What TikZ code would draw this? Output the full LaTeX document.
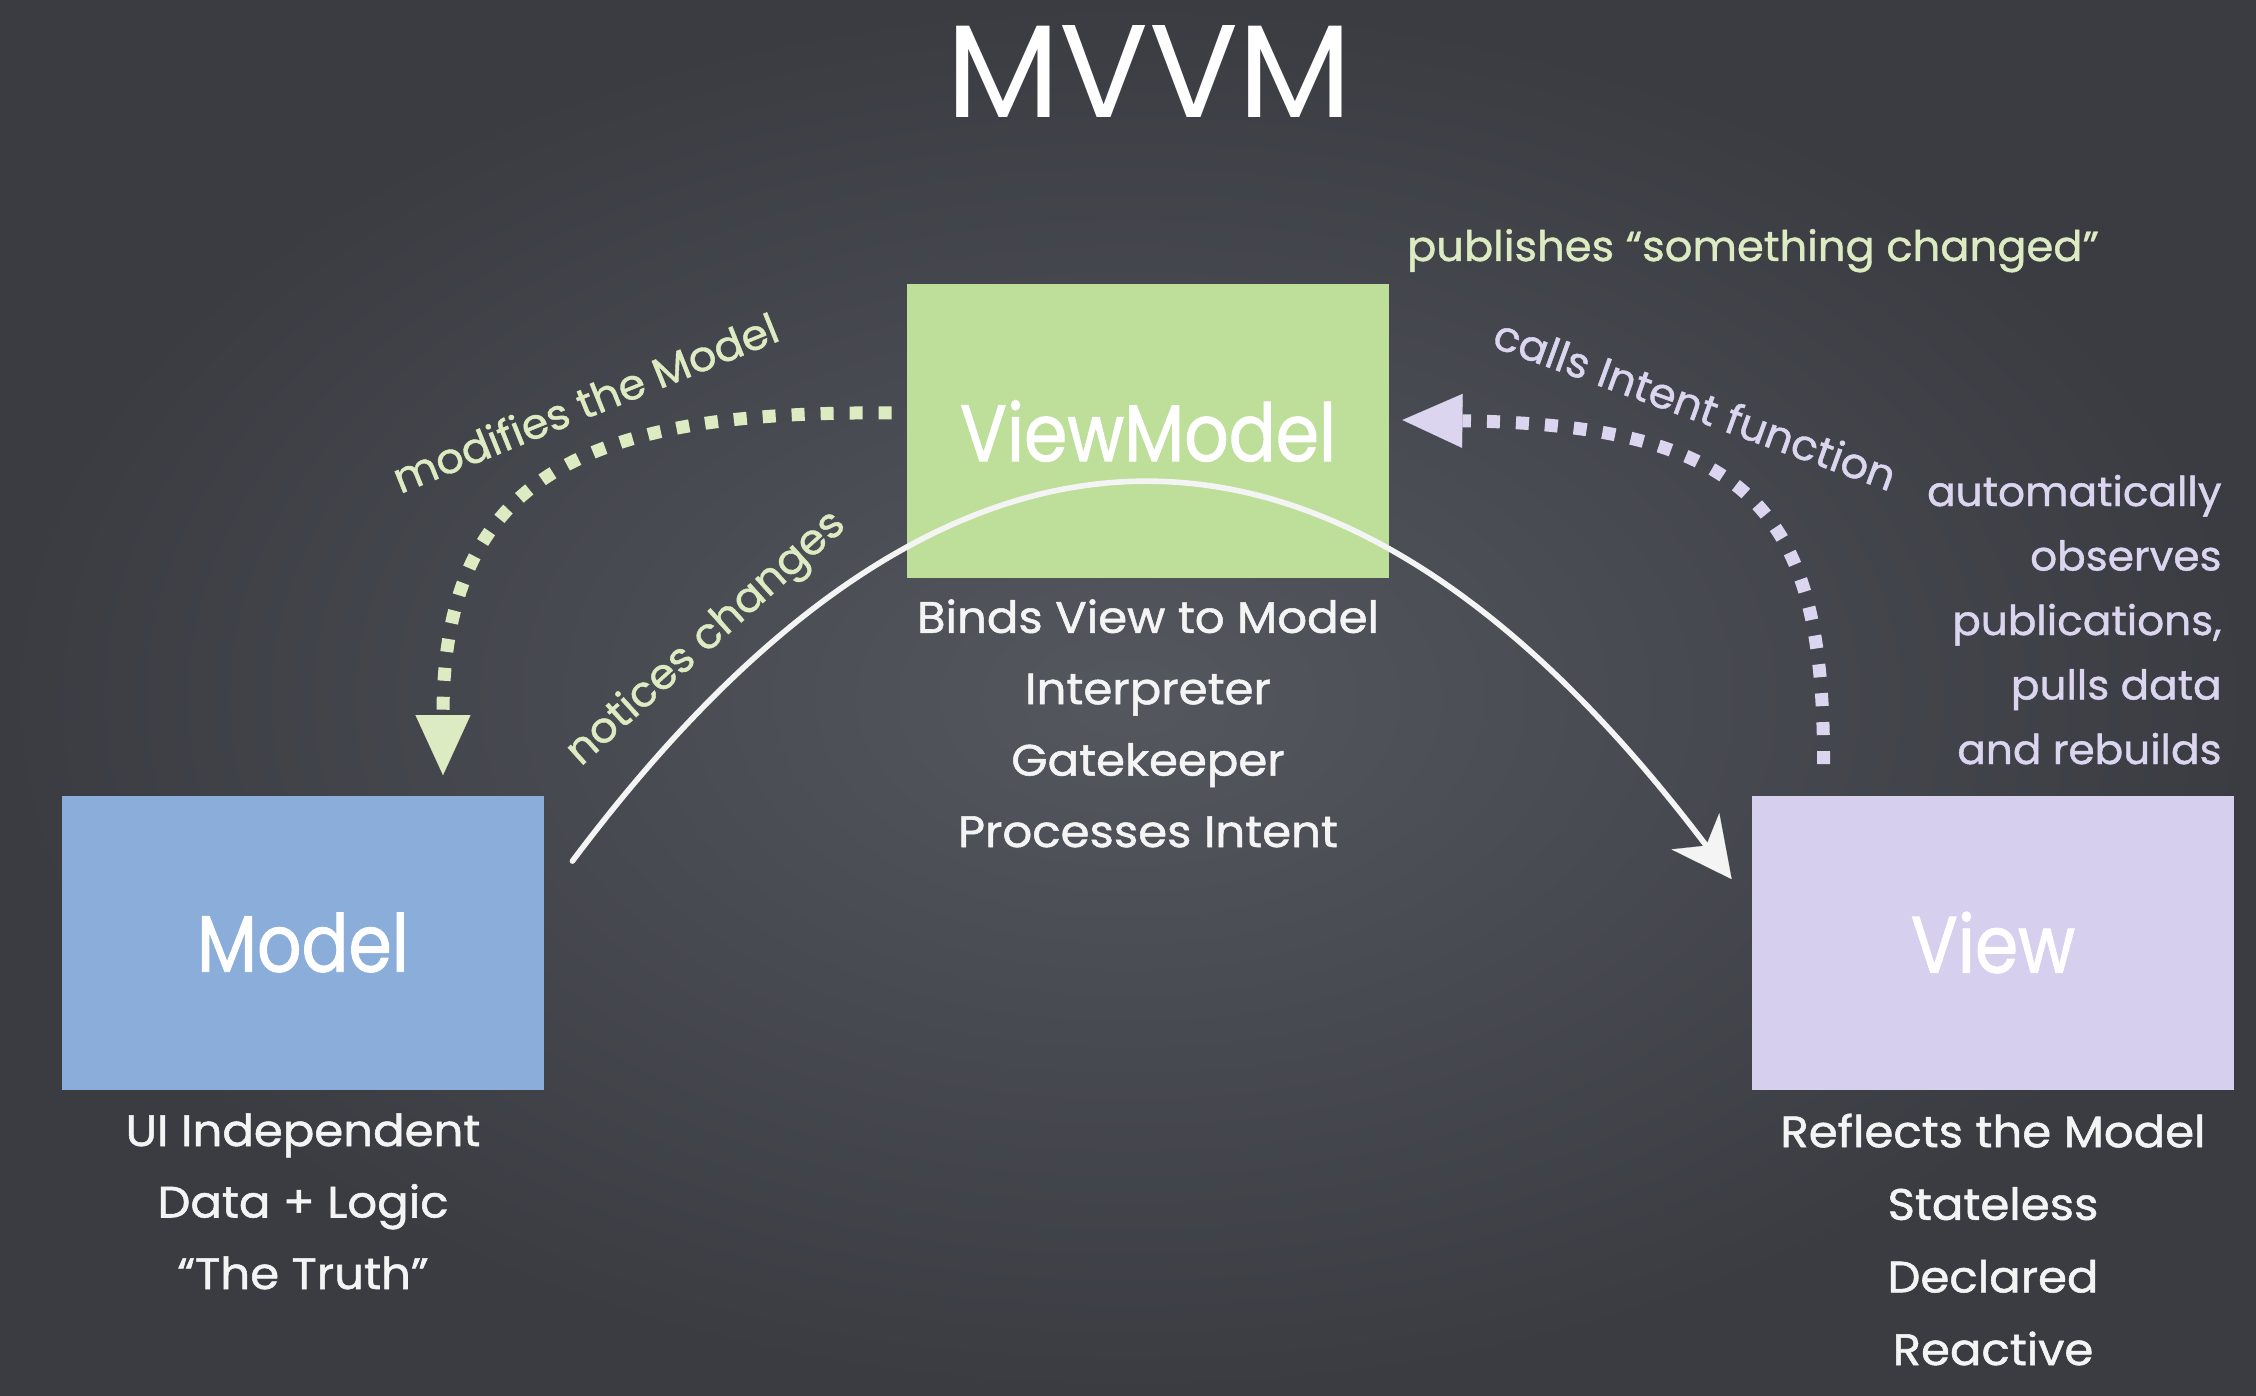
\documentclass[tikz,border=0pt]{standalone}
\usepackage{fontspec}
\newfontfamily\chalk{Poppins}
\newfontfamily\chalkwide[FakeStretch=1.06,FakeBold=1.2]{Poppins}
\newfontfamily\chalknote[FakeStretch=1.03,FakeBold=1]{Poppins}
\newfontfamily\chalknarrow[FakeStretch=0.87,FakeBold=1.2]{Poppins}
\usetikzlibrary{arrows.meta,calc}

\definecolor{boardmid}{HTML}{55575F}
\definecolor{boardedge}{HTML}{3A3C42}
\definecolor{modelblue}{HTML}{8AADD9}
\definecolor{vmgreen}{HTML}{BDDF99}
\definecolor{viewlilac}{HTML}{D7CFEE}
\definecolor{chalkwhite}{HTML}{F4F4F4}
\definecolor{palegreen}{HTML}{DCEBC2}
\definecolor{palelilac}{HTML}{DCD5F0}

\begin{document}
\begin{tikzpicture}[x=0.5pt,y=-0.5pt,
  box/.style={rectangle, minimum width=241pt, minimum height=147pt,
    inner sep=0pt, text=white, font=\chalknarrow\fontsize{40}{48}\selectfont},
  caption/.style={anchor=base, align=center, text=chalkwhite, inner sep=0pt},
  greennote/.style={text=palegreen, inner sep=0pt,
    font=\chalknote\fontsize{21}{24}\selectfont},
  lilacnote/.style={text=palelilac, inner sep=0pt,
    font=\chalknote\fontsize{21}{24}\selectfont},
  dotflow/.style={line width=6.5pt, dash pattern=on 6.5pt off 8pt},
  chalkline/.style={draw=chalkwhite, line width=2.8pt, line cap=round,
    -{Stealth[length=30pt,width=30pt,inset=9pt,line width=0.1pt]}},
]
% chalkboard
\useasboundingbox (0,0) rectangle (2256,1396);
\fill[inner color=boardmid, outer color=boardedge] (0,0) rectangle (2256,1396);

% title
\node[anchor=base, text=white, inner sep=0pt, font=\chalk\fontsize{66}{70}\selectfont]
  (title) at (1149,118) {MVVM};

% the three parts
\node[box, fill=modelblue] (model) at (303,942.5) {Model};
\node[box, fill=vmgreen]   (vm)    at (1148,431)  {ViewModel};
\node[box, fill=viewlilac] (view)  at (1993,942.5) {View};

% what each part does (anchored at the baseline of the last line)
\node[caption, font=\chalkwide\fontsize{22}{35.75}\selectfont] (modelcap) at (303,1289)
  {UI Independent\\Data + Logic\\“The Truth”};
\node[caption, font=\chalkwide\fontsize{22}{35.7}\selectfont] (vmcap) at (1148,847)
  {Binds View to Model\\Interpreter\\Gatekeeper\\Processes Intent};
\node[caption, font=\chalkwide\fontsize{22}{36.3}\selectfont] (viewcap) at (1993,1365)
  {Reflects the Model\\Stateless\\Declared\\Reactive};

% ViewModel -> Model
\coordinate (mstart) at ($(vm.west)+(-15,-18)$);
\coordinate (mend)   at ($(model.north)+(140,-20)$);
\draw[dotflow, draw=palegreen,
  -{Triangle[length=30pt,width=27.5pt,line width=0.1pt]}]
  (mstart) .. controls +(-312,-3) and +(0,-296) .. (mend);

% View -> ViewModel
\coordinate (vstart) at ($(view.north west)+(72,-31)$);
\coordinate (vend)   at ($(vm.east)+(13,-11)$);
\draw[dotflow, draw=palelilac,
  -{Triangle[length=30pt,width=27pt,line width=0.1pt]}]
  (vstart) .. controls +(0,-245) and +(358,5) .. (vend);

% Model -> View
\coordinate (astart) at ($(model.north east)+(28,66)$);
\coordinate (aend)   at ($(view.north west)+(-20,84)$);
\draw[chalkline] (astart) .. controls +(380,-507) and +(-393,-519) .. (aend);

% connector labels
\node[greennote, anchor=base, rotate=22] (modlbl) at (591,417) {modifies the Model};
\node[greennote, anchor=base, rotate=42] (notlbl) at (714,647) {notices changes};
\node[greennote, anchor=base] (publbl) at (1753,261) {publishes “something changed”};
\node[lilacnote, anchor=base, rotate=-20] (calllbl) at (1690,419) {calls Intent function};
\node[lilacnote, anchor=base east, align=right,
  font=\chalknote\fontsize{20.5}{32.25}\selectfont] (obslbl) at (2222,764)
  {automatically\\observes\\publications,\\pulls data\\and rebuilds};
\end{tikzpicture}
\end{document}
